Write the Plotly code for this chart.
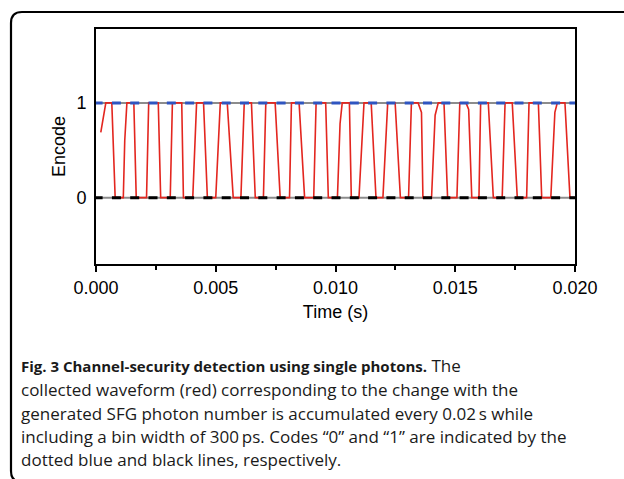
import plotly.graph_objects as go

# ---- data (time in s, encode value) ----
wave_t = [0.00020, 0.00041, 0.00066, 0.00080, 0.00114, 0.00120, 0.00129, 0.00158, 0.00168,
          0.00211, 0.00220, 0.00260, 0.00270, 0.00310, 0.00319, 0.00358, 0.00365, 0.00404,
          0.00420, 0.00449, 0.00465, 0.00500, 0.00519, 0.00548, 0.00573, 0.00605, 0.00619,
          0.00649, 0.00665, 0.00699, 0.00709, 0.00748, 0.00769, 0.00808, 0.00816, 0.00848,
          0.00871, 0.00909, 0.00919, 0.00959, 0.00970, 0.01008, 0.01019, 0.01028, 0.01058,
          0.01066, 0.01098, 0.01119, 0.01149, 0.01169, 0.01198, 0.01218, 0.01249, 0.01271,
          0.01305, 0.01317, 0.01345, 0.01359, 0.01365, 0.01401, 0.01416, 0.01429, 0.01453,
          0.01468, 0.01507, 0.01519, 0.01545, 0.01556, 0.01569, 0.01599, 0.01606, 0.01638,
          0.01659, 0.01696, 0.01708, 0.01738, 0.01759, 0.01798, 0.01808, 0.01847, 0.01861,
          0.01899, 0.01916, 0.01926, 0.01958, 0.01979, 0.01998]
wave_v = [0.69, 1, 1, 0, 0, 0.6, 1, 1, 0,
          0, 1, 1, 0, 0, 1, 1, 0, 0,
          1, 1, 0, 0, 1, 1, 0, 0, 1,
          1, 0, 0, 1, 1, 0, 0, 1, 1,
          0, 0, 1, 1, 0, 0, 0.78, 1, 1,
          0, 0, 1, 1, 0, 0, 1, 1, 0,
          0, 1, 1, 0.9, 0, 0, 0.87, 1, 1,
          0, 0, 1, 1, 0.93, 0, 0, 1, 1,
          0, 0, 1, 1, 0, 0, 1, 1, 0,
          0, 0.9, 1, 1, 0, 0]

code_levels = [1, 0]
code_colors = ["#2f55c0", "#000000"]
ref_t = [-0.0001, 0.02]

x_ticks = [0.000, 0.005, 0.010, 0.015, 0.020]
x_ticklabels = ["0.000", "0.005", "0.010", "0.015", "0.020"]
y_ticks = [0, 1]

caption_lines = [
    "<span style=\"font-size:15px\"><b>Fig. 3 Channel-security detection using single photons.</b></span> The",
    "collected waveform (red) corresponding to the change with the",
    "generated SFG photon number is accumulated every 0.02\u2009s while",
    "including a bin width of 300\u2009ps. Codes \u201c0\u201d and \u201c1\u201d are indicated by the",
    "dotted blue and black lines, respectively.",
]

W, H = 624, 479
ML, MR, MT, MB = 96, 49, 29, 215
PW, PH = W - ML - MR, H - MT - MB

def px(x):
    return (x - ML) / PW

def py(y):
    return (H - MB - y) / PH

fig = go.Figure()

# gray base lines
for lv in code_levels:
    fig.add_trace(go.Scatter(x=[0, 0.02], y=[lv, lv], mode="lines",
                             line=dict(color="#8c8c8c", width=2), showlegend=False,
                             hoverinfo="skip"))

# red waveform
fig.add_trace(go.Scatter(x=wave_t, y=wave_v, mode="lines",
                         line=dict(color="#e3261f", width=1.6), showlegend=False))

# dashed code lines
for lv, col in zip(code_levels, code_colors):
    fig.add_trace(go.Scatter(x=ref_t, y=[lv, lv], mode="lines",
                             line=dict(color=col, width=3, dash="9px,9.3px"),
                             showlegend=False, hoverinfo="skip"))

fig.update_xaxes(range=[0, 0.02], tickvals=x_ticks, ticktext=x_ticklabels,
                 ticks="outside", ticklen=6, tickwidth=1.5, tickcolor="black",
                 minor=dict(ticks="outside", ticklen=3.5, tickwidth=1.5, tickcolor="black",
                            dtick=0.0025, showgrid=False),
                 showline=True, linecolor="black", linewidth=2, mirror=True,
                 showgrid=False, zeroline=False,
                 tickfont=dict(family="Liberation Sans, Arial", size=18, color="black"),
                 title=dict(text="Time (s)", standoff=9,
                            font=dict(family="Liberation Sans, Arial", size=18, color="black")))
fig.update_yaxes(range=[-0.7, 1.78], tickvals=y_ticks, ticks="",
                 showline=True, linecolor="black", linewidth=2, mirror=True,
                 showgrid=False, zeroline=False, ticklabelstandoff=4,
                 tickfont=dict(family="Liberation Sans, Arial", size=18, color="black"),
                 title=dict(text="Encode", standoff=6,
                            font=dict(family="Liberation Sans, Arial", size=18, color="black")))

# caption
cap_y = [365, 389, 413, 437, 459.5]
for txt, yy in zip(caption_lines, cap_y):
    fig.add_annotation(text=txt, xref="paper", yref="paper", x=px(19), y=py(yy),
                       xanchor="left", yanchor="middle", showarrow=False,
                       font=dict(family="Open Sans", size=17, color="#1a1a1a"))

# rounded outer border
x0, y0, r = 11, 12, 11
x1, y1 = 640, 482
path = (f"M {px(x0)},{py(y1 - r)} L {px(x0)},{py(y0 + r)} "
        f"Q {px(x0)},{py(y0)} {px(x0 + r)},{py(y0)} L {px(x1)},{py(y0)} "
        f"M {px(x0)},{py(y1 - r)} Q {px(x0)},{py(y1)} {px(x0 + r)},{py(y1)} L {px(x1)},{py(y1)}")
fig.add_shape(type="path", path=path, xref="paper", yref="paper",
              line=dict(color="black", width=2.2))

fig.update_layout(width=W, height=H, margin=dict(l=ML, r=MR, t=MT, b=MB),
                  paper_bgcolor="white", plot_bgcolor="white")

fig.write_html("out.html", config={"displayModeBar": False},
               post_script="document.body.style.margin='0';")
